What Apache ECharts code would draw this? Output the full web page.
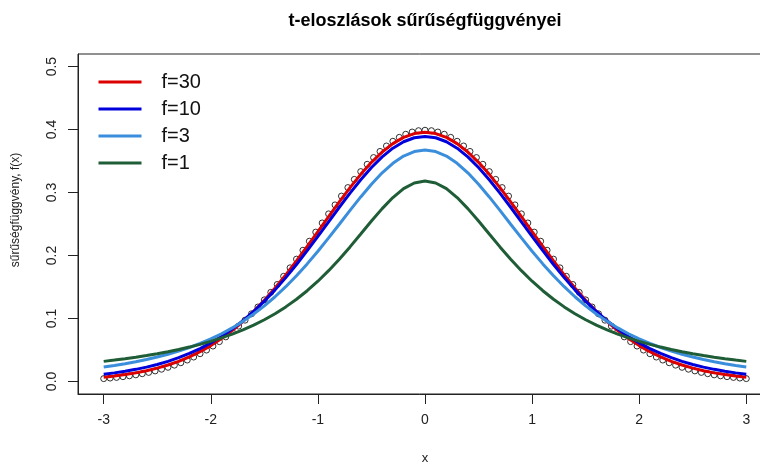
<!DOCTYPE html>
<html>
<head>
<meta charset="utf-8">
<script src="https://cdn.jsdelivr.net/npm/echarts@6/dist/echarts.min.js"></script>
<style>
html,body{margin:0;padding:0;background:#fff;}
#main{width:760px;height:463px;}
</style>
</head>
<body>
<div id="main"></div>
<script>
// ---- data ----
var titleText = 't-eloszlások sűrűségfüggvényei';
var xName = 'x';
var yName = 'sűrűségfüggvény, f(x)';
var seriesNames = ['f=30', 'f=10', 'f=3', 'f=1'];
var seriesColors = ['#DD0000', '#0000DD', '#3A8EDB', '#1F5D37'];
var xTicks = [-3, -2, -1, 0, 1, 2, 3];
var yTicks = [0, 0.1, 0.2, 0.3, 0.4, 0.5];

var xLine = [-3,-2.9,-2.8,-2.7,-2.6,-2.5,-2.4,-2.3,-2.2,-2.1,-2,-1.9,-1.8,-1.7,-1.6,-1.5,-1.4,-1.3,-1.2,-1.1,-1,-0.9,-0.8,-0.7,-0.6,-0.5,-0.4,-0.3,-0.2,-0.1,0,0.1,0.2,0.3,0.4,0.5,0.6,0.7,0.8,0.9,1,1.1,1.2,1.3,1.4,1.5,1.6,1.7,1.8,1.9,2,2.1,2.2,2.3,2.4,2.5,2.6,2.7,2.8,2.9,3];

var f30 = [0.00678,0.00859,0.01082,0.01358,0.01696,0.02106,0.02600,0.03192,0.03895,0.04721,0.05685,0.06798,0.08071,0.09510,0.11119,0.12896,0.14834,0.16919,0.19129,0.21435,0.23799,0.26179,0.28523,0.30778,0.32885,0.34788,0.36432,0.37768,0.38754,0.39359,0.39563,0.39359,0.38754,0.37768,0.36432,0.34788,0.32885,0.30778,0.28523,0.26179,0.23799,0.21435,0.19129,0.16919,0.14834,0.12896,0.11119,0.09510,0.08071,0.06798,0.05685,0.04721,0.03895,0.03192,0.02600,0.02106,0.01696,0.01358,0.01082,0.00859,0.00678];

var f10 = [0.01140,0.01356,0.01612,0.01915,0.02273,0.02694,0.03188,0.03766,0.04438,0.05217,0.06115,0.07143,0.08312,0.09631,0.11108,0.12745,0.14539,0.16485,0.18566,0.20760,0.23036,0.25353,0.27662,0.29909,0.32033,0.33969,0.35658,0.37040,0.38066,0.38697,0.38911,0.38697,0.38066,0.37040,0.35658,0.33969,0.32033,0.29909,0.27662,0.25353,0.23036,0.20760,0.18566,0.16485,0.14539,0.12745,0.11108,0.09631,0.08312,0.07143,0.06115,0.05217,0.04438,0.03766,0.03188,0.02694,0.02273,0.01915,0.01612,0.01356,0.01140];

var f3 = [0.02297,0.02541,0.02815,0.03124,0.03473,0.03866,0.04311,0.04813,0.05382,0.06025,0.06751,0.07571,0.08496,0.09535,0.10701,0.12002,0.13446,0.15039,0.16780,0.18664,0.20675,0.22788,0.24967,0.27159,0.29301,0.31318,0.33127,0.34646,0.35794,0.36511,0.36755,0.36511,0.35794,0.34646,0.33127,0.31318,0.29301,0.27159,0.24967,0.22788,0.20675,0.18664,0.16780,0.15039,0.13446,0.12002,0.10701,0.09535,0.08496,0.07571,0.06751,0.06025,0.05382,0.04813,0.04311,0.03866,0.03473,0.03124,0.02815,0.02541,0.02297];

var f1 = [0.03183,0.03383,0.03601,0.03840,0.04102,0.04391,0.04709,0.05061,0.05451,0.05884,0.06366,0.06905,0.07507,0.08183,0.08941,0.09794,0.10754,0.11833,0.13046,0.14403,0.15915,0.17586,0.19409,0.21363,0.23405,0.25465,0.27441,0.29203,0.30607,0.31516,0.31831,0.31516,0.30607,0.29203,0.27441,0.25465,0.23405,0.21363,0.19409,0.17586,0.15915,0.14403,0.13046,0.11833,0.10754,0.09794,0.08941,0.08183,0.07507,0.06905,0.06366,0.05884,0.05451,0.05061,0.04709,0.04391,0.04102,0.03840,0.03601,0.03383,0.03183];

var xCircle = [-3,-2.94,-2.88,-2.82,-2.76,-2.7,-2.64,-2.58,-2.52,-2.46,-2.4,-2.34,-2.28,-2.22,-2.16,-2.1,-2.04,-1.98,-1.92,-1.86,-1.8,-1.74,-1.68,-1.62,-1.56,-1.5,-1.44,-1.38,-1.32,-1.26,-1.2,-1.14,-1.08,-1.02,-0.96,-0.9,-0.84,-0.78,-0.72,-0.66,-0.6,-0.54,-0.48,-0.42,-0.36,-0.3,-0.24,-0.18,-0.12,-0.06,0,0.06,0.12,0.18,0.24,0.3,0.36,0.42,0.48,0.54,0.6,0.66,0.72,0.78,0.84,0.9,0.96,1.02,1.08,1.14,1.2,1.26,1.32,1.38,1.44,1.5,1.56,1.62,1.68,1.74,1.8,1.86,1.92,1.98,2.04,2.1,2.16,2.22,2.28,2.34,2.4,2.46,2.52,2.58,2.64,2.7,2.76,2.82,2.88,2.94,3];

var normalDots = [0.00443,0.00530,0.00631,0.00748,0.00885,0.01042,0.01223,0.01430,0.01667,0.01936,0.02239,0.02582,0.02965,0.03394,0.03871,0.04398,0.04980,0.05618,0.06316,0.07074,0.07895,0.08780,0.09728,0.10740,0.11816,0.12952,0.14146,0.15395,0.16694,0.18037,0.19419,0.20831,0.22265,0.23713,0.25164,0.26609,0.28034,0.29430,0.30785,0.32086,0.33322,0.34482,0.35553,0.36526,0.37391,0.38139,0.38762,0.39253,0.39608,0.39822,0.39894,0.39822,0.39608,0.39253,0.38762,0.38139,0.37391,0.36526,0.35553,0.34482,0.33322,0.32086,0.30785,0.29430,0.28034,0.26609,0.25164,0.23713,0.22265,0.20831,0.19419,0.18037,0.16694,0.15395,0.14146,0.12952,0.11816,0.10740,0.09728,0.08780,0.07895,0.07074,0.06316,0.05618,0.04980,0.04398,0.03871,0.03394,0.02965,0.02582,0.02239,0.01936,0.01667,0.01430,0.01223,0.01042,0.00885,0.00748,0.00631,0.00530,0.00443];

// ---- chart ----
function pairs(xs, ys) { return xs.map(function (x, i) { return [x, ys[i]]; }); }
var FONT = '"Liberation Sans", Arial, Helvetica, sans-serif';
var lineSets = [f30, f10, f3, f1];

var series = [{
  type: 'scatter',
  name: 'normal',
  data: pairs(xCircle, normalDots),
  symbol: 'circle',
  symbolSize: 6,
  itemStyle: { color: 'rgba(0,0,0,0)', borderColor: '#000', borderWidth: 1 },
  z: 1,
  silent: true
}];
lineSets.forEach(function (ys, i) {
  series.push({
    type: 'line',
    name: seriesNames[i],
    data: pairs(xLine, ys),
    showSymbol: false,
    symbol: 'none',
    lineStyle: { color: seriesColors[i], width: 3 },
    itemStyle: { color: seriesColors[i] },
    z: 2 + i,
    silent: true
  });
});

var chart = echarts.init(document.getElementById('main'), null, { renderer: 'canvas' });
chart.setOption({
  animation: false,
  backgroundColor: '#fff',
  textStyle: { fontFamily: FONT },
  title: {
    text: titleText,
    left: 420,
    textAlign: 'center',
    top: 7,
    textStyle: { fontFamily: FONT, fontSize: 18, fontWeight: 'bold', color: '#000' }
  },
  legend: {
    data: seriesNames,
    orient: 'vertical',
    left: 97,
    top: 72,
    padding: 0,
    itemWidth: 43,
    itemHeight: 20,
    itemGap: 7,
    itemStyle: { opacity: 0 },
    lineStyle: { width: 3 },
    textStyle: { fontFamily: FONT, fontSize: 20, color: '#111', lineHeight: 20, padding: [0, 0, 0, 15] },
    selectedMode: false
  },
  grid: {
    left: 78, top: 54, width: 694, height: 340,
    outerBoundsMode: 'none',
    containLabel: false,
    show: true, borderColor: '#222', borderWidth: 1, backgroundColor: 'transparent'
  },
  xAxis: {
    type: 'value',
    min: -3.24, max: 3.24,
    name: xName,
    nameLocation: 'middle',
    nameGap: 58,
    nameTextStyle: { fontFamily: FONT, fontSize: 13, color: '#222' },
    axisLine: { show: true, onZero: false, lineStyle: { color: '#222', width: 1 } },
    axisTick: { show: true, length: 10, inside: false, customValues: xTicks, lineStyle: { color: '#222' } },
    axisLabel: { show: true, customValues: xTicks, margin: 19, fontSize: 14, color: '#222', fontFamily: FONT,
      formatter: function (v) { return String(v); } },
    splitLine: { show: false }
  },
  yAxis: {
    type: 'value',
    min: -0.02, max: 0.52,
    name: yName,
    nameLocation: 'middle',
    nameGap: 56,
    nameRotate: 90,
    nameTextStyle: { fontFamily: FONT, fontSize: 12, color: '#222', padding: [0, 0, 0, 28] },
    axisLine: { show: true, onZero: false, lineStyle: { color: '#222', width: 1 } },
    axisTick: { show: true, length: 10, inside: false, customValues: yTicks, lineStyle: { color: '#222' } },
    axisLabel: { show: true, customValues: yTicks, rotate: 90, margin: 19, fontSize: 14, color: '#222', fontFamily: FONT,
      formatter: function (v) { return v.toFixed(1); } },
    splitLine: { show: false }
  },
  series: series
});
</script>
</body>
</html>
